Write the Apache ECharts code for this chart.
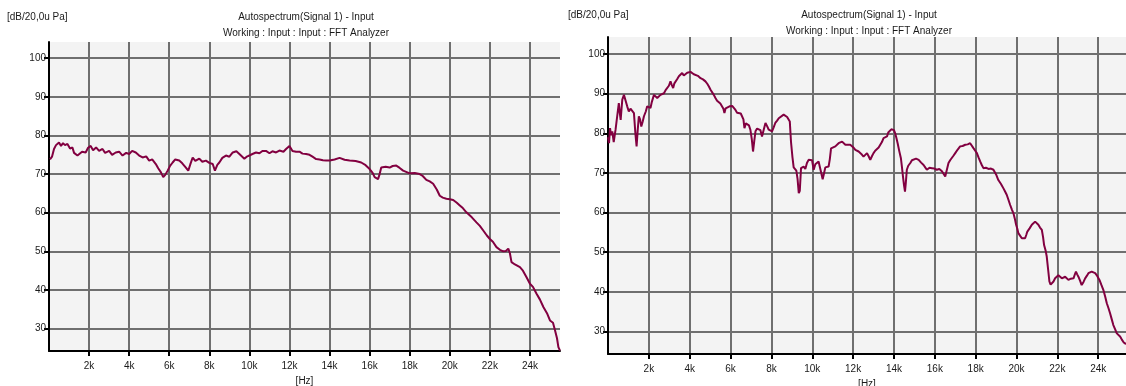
<!DOCTYPE html>
<html>
<head>
<meta charset="utf-8">
<script src="https://cdn.jsdelivr.net/npm/echarts@6/dist/echarts.min.js"></script>
<style>
html,body{margin:0;padding:0;background:#fff;}
#c{width:1126px;height:386px;}
</style>
</head>
<body>
<div id="c"></div>
<script>
// ---- data (frequency in kHz, level in dB) ----
var leftFreq = [0.05,0.15,0.25,0.35,0.5,0.6,0.7,0.8,0.92,1.05,1.17,1.25,1.33,1.42,1.5,1.65,1.83,1.95,2.08,2.2,2.35,2.5,2.67,2.8,3.0,3.15,3.33,3.5,3.67,3.85,4.0,4.15,4.33,4.5,4.67,4.85,5.0,5.15,5.33,5.45,5.58,5.7,5.8,5.92,6.05,6.17,6.3,6.5,6.65,6.83,6.95,7.05,7.17,7.3,7.5,7.65,7.83,8.0,8.17,8.28,8.4,8.5,8.65,8.83,9.0,9.17,9.35,9.5,9.75,9.9,10.0,10.15,10.33,10.5,10.65,10.83,11.0,11.15,11.33,11.5,11.7,11.83,12.0,12.15,12.33,12.5,12.65,12.83,13.0,13.15,13.33,13.5,13.67,13.83,14.0,14.25,14.5,14.75,15.0,15.3,15.58,15.8,16.0,16.15,16.25,16.42,16.5,16.58,16.67,16.8,17.0,17.15,17.33,17.5,17.67,18.0,18.25,18.5,18.65,18.83,19.0,19.17,19.35,19.5,19.65,19.83,20.0,20.17,20.35,20.5,20.65,20.83,21.1,21.33,21.5,21.67,21.85,22.0,22.15,22.33,22.5,22.67,22.8,22.92,23.0,23.08,23.25,23.5,23.65,23.83,24.0,24.15,24.33,24.5,24.67,24.85,25.0,25.15,25.25,25.35,25.42,25.5];
var leftLevel = [73.8,74.5,76.5,77.5,78.2,77.3,78,77.5,77.8,76.6,76.9,75.5,75.6,74.8,75.2,75.8,75.6,76.8,77.3,76.2,76.9,76,76.5,75.5,76,75,75.6,75.8,74.8,75.5,75.2,76,75.6,74.8,74.3,74.6,73.5,73.8,72.6,71.5,70.5,69.2,69.8,70.9,72.2,73,73.8,73.5,72.8,71.7,70.9,72.5,74.3,73.4,74,73.2,73.5,72.9,72.6,70.9,72.4,73,74.2,74.8,74.5,75.6,75.9,75.2,74,74.6,74.8,75.2,75.6,75.4,76,76,75.4,75.9,75.6,76.1,75.8,76.5,77.3,76,75.8,75.8,75.3,75.2,75,74.5,73.9,73.8,73.6,73.5,73.5,73.8,74.2,73.7,73.5,73.4,73,72.3,71.3,70.3,69.2,68.7,70,71.7,72.2,71.9,71.7,72.1,72.2,71.6,70.9,70.2,70.3,70,69.5,68.5,68.1,67.5,66,64.4,63.9,63.6,63.5,63.3,62.6,61.9,61.2,60.1,58.8,57.5,56.6,55.4,54.1,53.2,52.5,51.1,50.4,50,50.1,50.7,49.5,47.2,46.6,45.9,45,43.3,41.6,40.8,39,37.5,35.6,34,32.1,31.5,29.6,27.5,25.2,24.3];

var rightFreq = [0.0,0.05,0.1,0.15,0.21,0.28,0.3,0.37,0.45,0.53,0.58,0.62,0.66,0.70,0.78,0.86,0.94,1.02,1.1,1.19,1.27,1.34,1.40,1.45,1.51,1.57,1.63,1.7,1.76,1.85,1.92,2.0,2.08,2.15,2.25,2.33,2.41,2.5,2.57,2.66,2.74,2.82,2.90,2.98,3.06,3.12,3.19,3.25,3.31,3.39,3.47,3.55,3.63,3.71,3.79,3.88,3.96,4.04,4.12,4.2,4.28,4.4,4.53,4.65,4.77,4.86,4.94,5.02,5.10,5.18,5.26,5.34,5.42,5.50,5.59,5.65,5.70,5.76,5.83,5.95,6.08,6.16,6.24,6.32,6.40,6.50,6.57,6.63,6.68,6.75,6.81,6.9,6.97,7.04,7.10,7.16,7.22,7.30,7.38,7.46,7.54,7.62,7.71,7.79,7.87,7.95,8.03,8.11,8.19,8.28,8.36,8.44,8.60,8.77,8.85,8.90,8.96,9.03,9.09,9.16,9.22,9.28,9.34,9.39,9.45,9.50,9.58,9.66,9.74,9.82,9.91,9.99,10.07,10.15,10.23,10.31,10.36,10.44,10.51,10.58,10.64,10.72,10.80,10.86,10.92,11.0,11.13,11.21,11.29,11.38,11.46,11.54,11.62,11.70,11.86,12.0,12.11,12.27,12.4,12.51,12.60,12.68,12.76,12.84,12.92,13.00,13.08,13.17,13.25,13.33,13.41,13.49,13.58,13.66,13.72,13.79,13.87,13.95,14.0,14.06,14.12,14.18,14.26,14.34,14.39,14.44,14.49,14.54,14.58,14.63,14.7,14.80,14.88,14.96,15.08,15.21,15.33,15.45,15.53,15.61,15.74,15.86,15.98,16.10,16.22,16.35,16.43,16.51,16.59,16.67,16.75,16.84,16.92,17.00,17.12,17.24,17.36,17.49,17.61,17.73,17.82,17.90,17.98,18.06,18.14,18.22,18.30,18.38,18.50,18.63,18.75,18.87,19.0,19.11,19.24,19.36,19.44,19.52,19.60,19.69,19.77,19.85,19.92,19.98,20.04,20.09,20.18,20.26,20.34,20.42,20.48,20.53,20.64,20.75,20.83,20.91,20.99,21.07,21.15,21.24,21.30,21.35,21.42,21.48,21.55,21.61,21.67,21.73,21.81,21.89,21.97,22.05,22.14,22.22,22.30,22.38,22.46,22.54,22.66,22.79,22.85,22.91,22.97,23.03,23.11,23.19,23.28,23.36,23.44,23.52,23.60,23.68,23.76,23.85,23.95,24.06,24.15,24.25,24.34,24.42,24.50,24.58,24.66,24.74,24.83,24.91,25.0,25.07,25.15,25.25,25.36];
var rightLevel = [79,77.5,81.3,79.5,80.5,77.8,77.5,80.9,84.3,87.6,85,83.4,86,88.5,89.7,89.3,86.8,85.5,86.2,85.9,85.1,80,76.7,80.5,84.3,83.5,81.7,83,84.3,85.5,86.8,86.6,86.4,88,89.7,89.2,88.9,89.3,89.7,89.8,90.1,90.9,90.6,92,93.1,92.2,91.4,92.6,93.1,93.7,94.4,94.5,95.2,94.6,94.8,95.3,95,95.5,95.2,94.9,94.8,94.5,93.9,93.6,93.1,92.5,91.8,91,90.6,89.7,88.9,88.2,87.8,87.5,87.2,86.2,85.1,86.3,86.8,86.8,86.9,86.4,85.9,85.2,84.7,85,85.1,83.5,81.3,82.5,83,82,80.9,78.5,75.4,78,80.5,81.2,81.7,80.8,79.2,80.8,82.6,81.8,80.9,80.6,80.5,81.5,82.6,83.2,83.8,84.2,84.7,84.1,83.8,83,77.8,74,71.4,71.5,70.6,68.5,64.9,65.5,71.2,71.6,71.6,71,72.5,73.3,73.5,73.2,70.8,72.2,72.0,72.9,72.5,70,68.4,70,71.4,71.5,71.6,73.5,76.2,76.5,76.7,76.9,77.5,77.8,77.9,77.5,77.1,77.1,77.1,76.5,75.8,75.4,74.8,74.1,74.6,75,74.2,73.3,74.2,75,75.6,76,76.4,76.7,77.8,78.8,79,79.2,80.2,80.7,81,81.1,80.8,80,78.8,77.5,75.5,73.7,71.5,69.1,67,65.3,67.5,70.8,71.8,72.5,73.2,73.7,73.6,73.3,72.6,72,71.4,70.8,71.3,71.2,71.1,70.8,71,70.4,70,69.1,70.8,72.5,73.2,73.7,74.4,75,75.9,76.7,76.8,77.1,77.2,77.5,77,76.2,75.6,75,73.9,72.9,72,71.2,71.3,71,71.1,70.8,69.6,68.2,67.2,66.1,65.3,64.5,63.3,61.9,60.8,59.8,58.4,56.9,55.9,54.8,54.1,53.5,53.3,53.5,54.4,55.2,56,56.9,57.3,57.7,57.5,56.9,56.2,55.6,53.8,51.8,50.5,48.9,45.5,42.6,41.8,41.7,42.6,43.4,43.8,44.2,43.7,43.4,43.7,43.8,43.4,43,43.3,43.4,44.3,45.1,44.4,43.8,42.8,41.7,42.5,43.4,44,44.7,44.9,45.1,45,44.7,44,43,41.8,40.5,38.8,37.1,35.9,34.6,33.1,31.6,30.5,29.5,29,28.7,28,27.2,26.8];

var xTicks = [2,4,6,8,10,12,14,16,18,20,22,24];
var yTicks = [30,40,50,60,70,80,90,100];

var titleText = 'Autospectrum(Signal 1) - Input';
var subText = 'Working : Input : Input : FFT Analyzer';
var yUnit = '[dB/20,0u Pa]';
var xUnit = '[Hz]';

function zip(a, b) { return a.map(function (v, i) { return [v, b[i]]; }); }

var FONT = '"Liberation Sans", Arial, sans-serif';
var TXT = '#1a1a1a';
var GRIDC = '#6f6f6f';
var LINEC = '#820040';

function xAxisCfg(idx, max) {
  return {
    type: 'value', gridIndex: idx, min: 0, max: max,
    name: xUnit, nameLocation: 'middle', nameGap: 21,
    nameTextStyle: { fontFamily: FONT, fontSize: 10, color: TXT },
    axisLine: { show: true, onZero: false, lineStyle: { color: '#000', width: 2 } },
    axisTick: { show: true, length: 5, customValues: xTicks, lineStyle: { color: '#000', width: 2 } },
    axisLabel: { customValues: xTicks, margin: 10, fontFamily: FONT, fontSize: 10, color: TXT,
      formatter: function (v) { return v + 'k'; } },
    splitLine: { show: true, lineStyle: { color: GRIDC, width: 2 } }
  };
}
function yAxisCfg(idx, min, max) {
  return {
    type: 'value', gridIndex: idx, min: min, max: max,
    axisLine: { show: true, lineStyle: { color: '#000', width: 2 } },
    axisTick: { show: true, length: 5, customValues: yTicks, lineStyle: { color: '#000', width: 2 } },
    axisLabel: { customValues: yTicks, margin: 3, fontFamily: FONT, fontSize: 10, color: TXT },
    splitLine: { show: true, lineStyle: { color: GRIDC, width: 2 } }
  };
}

function txt(x, y, s, align) {
  return { type: 'text', x: x, y: y, style: { text: s, fontFamily: FONT, fontSize: 10, fill: TXT, align: align || 'left', verticalAlign: 'middle' } };
}

var chart = echarts.init(document.getElementById('c'), null, { renderer: 'canvas' });
chart.setOption({
  animation: false,
  backgroundColor: '#fff',
  grid: [
    { left: 49, top: 42, width: 511, height: 309, show: true, backgroundColor: '#f3f3f3', borderWidth: 0,
      containLabel: false, outerBoundsMode: 'none' },
    { left: 608, top: 37, width: 518, height: 317, show: true, backgroundColor: '#f3f3f3', borderWidth: 0,
      containLabel: false, outerBoundsMode: 'none' }
  ],
  xAxis: [xAxisCfg(0, 25.5), xAxisCfg(1, 25.36)],
  yAxis: [yAxisCfg(0, 24.2, 104.2), yAxisCfg(1, 24.3, 104.3)],
  series: [
    { type: 'line', xAxisIndex: 0, yAxisIndex: 0, data: zip(leftFreq, leftLevel), showSymbol: false,
      lineStyle: { color: LINEC, width: 2 }, itemStyle: { color: LINEC } },
    { type: 'line', xAxisIndex: 1, yAxisIndex: 1, data: zip(rightFreq, rightLevel), showSymbol: false,
      lineStyle: { color: LINEC, width: 2 }, itemStyle: { color: LINEC } }
  ],
  graphic: [
    txt(7, 17, yUnit),
    txt(306, 17, titleText, 'center'),
    txt(306, 33, subText, 'center'),
    txt(568, 15, yUnit),
    txt(869, 15, titleText, 'center'),
    txt(869, 31, subText, 'center')
  ]
});
</script>
</body>
</html>
